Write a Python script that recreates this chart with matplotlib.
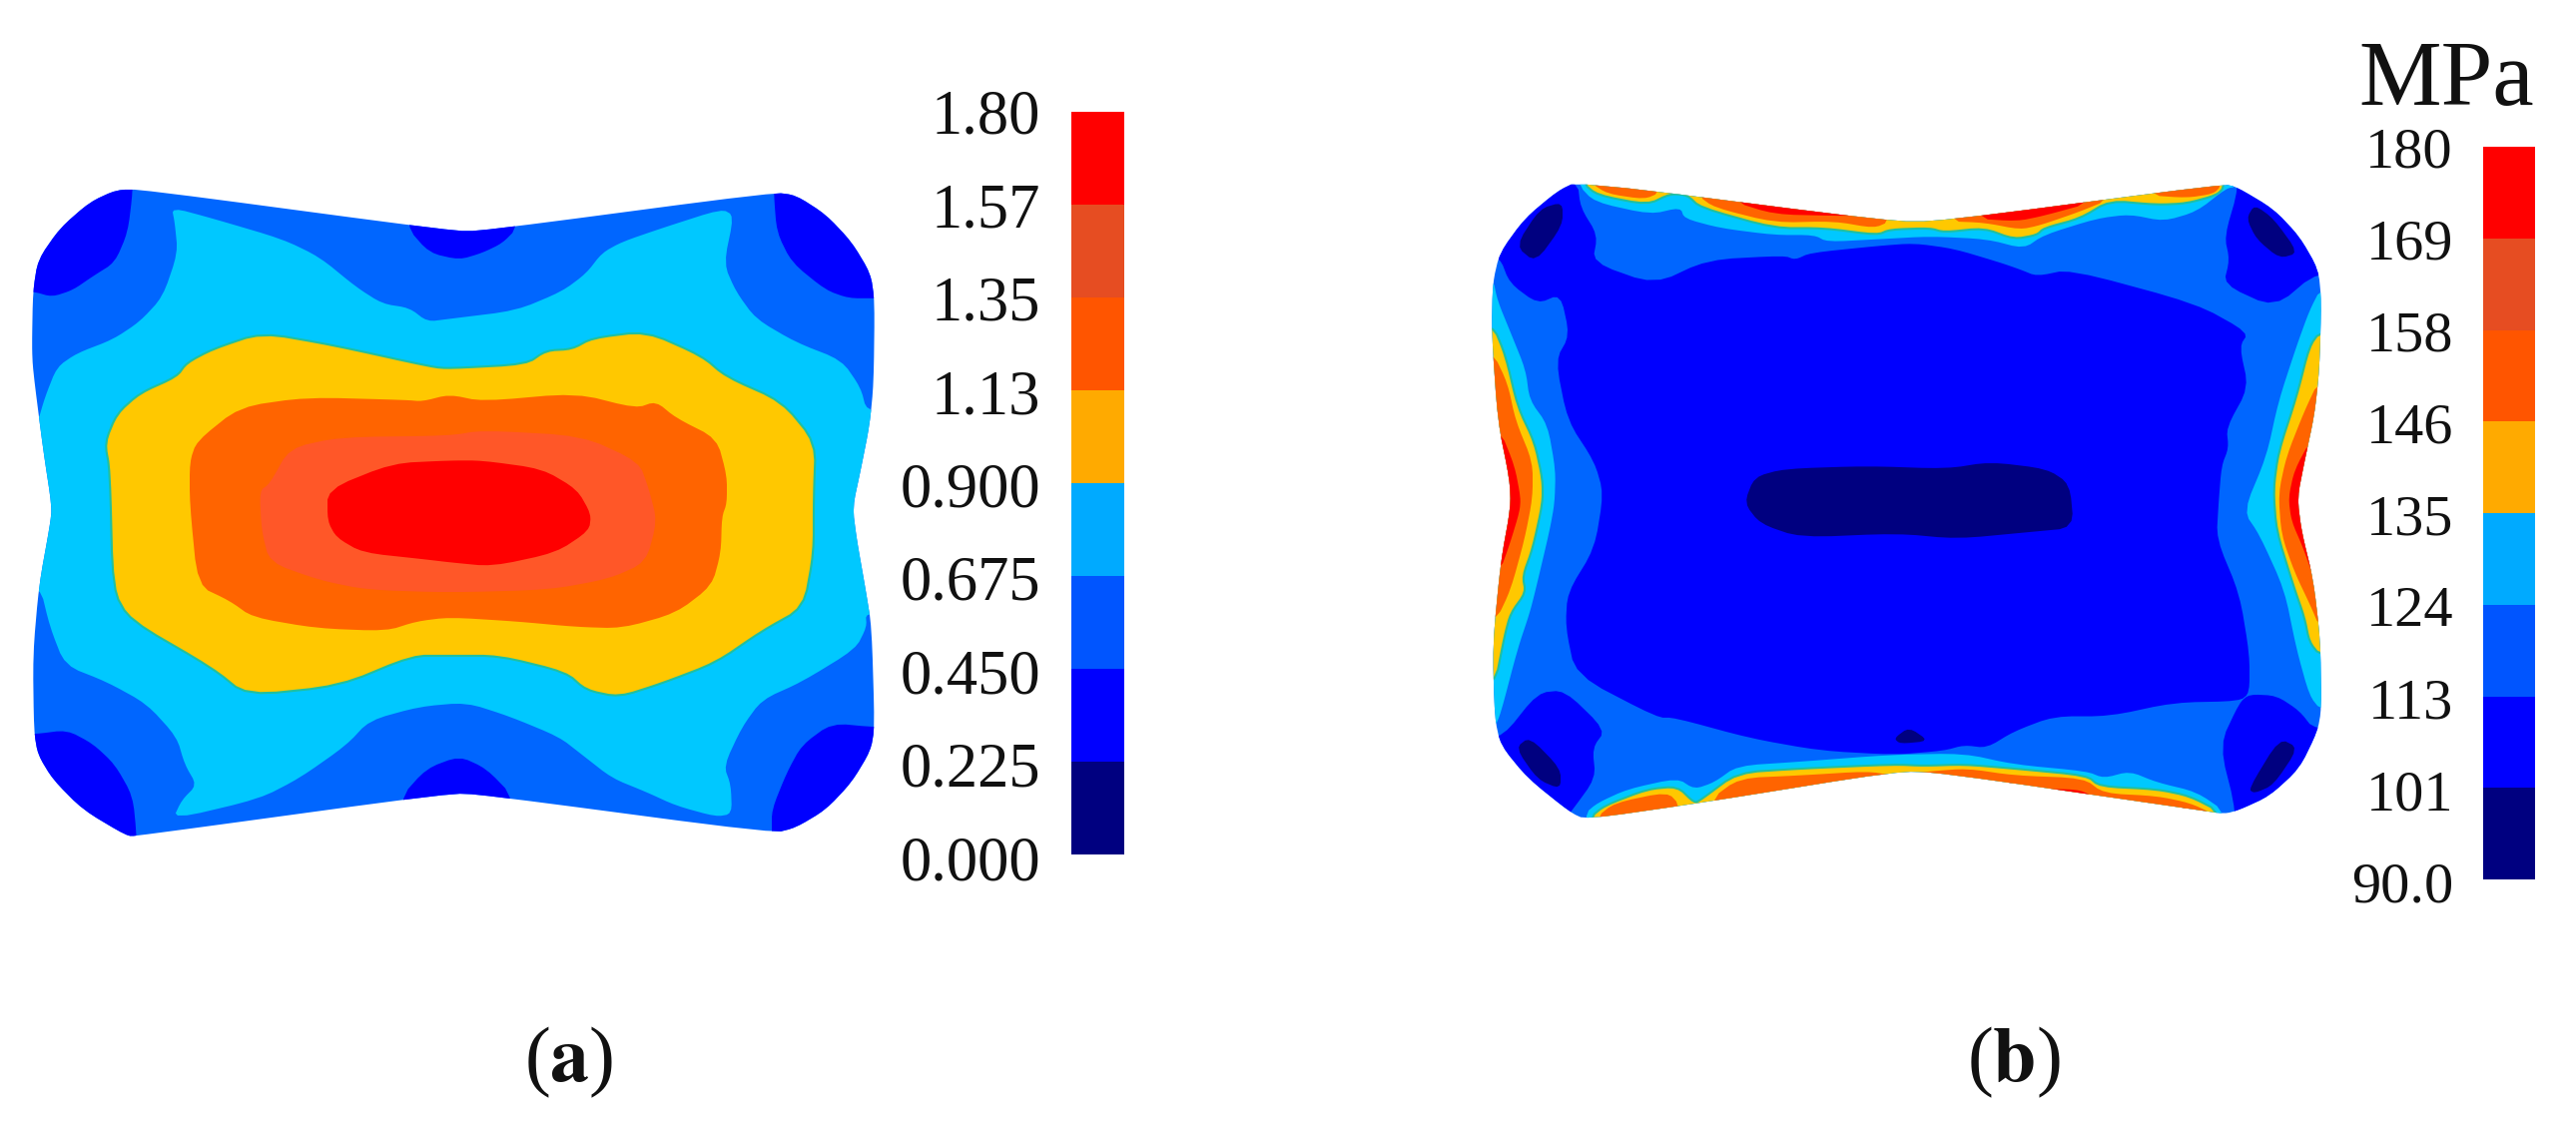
import numpy as np
import matplotlib
matplotlib.use("Agg")
import matplotlib.pyplot as plt

# contour outlines: x in image px, y in trace units (see ylim below)
# ---- panel a
a_outline = [(117,179),(143,179),(453,209),(483,209),(775,181),(797,183),(827,197),(853,217),(872,240),(876,260),
             (875,320),(871,350),(862,383),(854,410),(858,433),(867,470),(873,497),(876,570),(872,587),(853,610),
             (827,630),(797,643),(775,647),(483,619),(450,618),(137,649),(127,649),(83,630),(53,608),(38,590),
             (34,573),(33,517),(39,467),(50,423),(52,410),(43,367),(33,310),(32,293),(33,253),(38,230),(60,207),(90,188)]
a_cyan = [(172,192),(213,200),(283,215),(320,228),(357,250),(383,262),(410,265),(428,275),(450,273),(517,267),
          (563,253),(587,240),(603,225),(623,217),(663,207),(723,193),(735,198),(725,233),(737,253),(757,273),
          (797,290),(843,303),(862,323),(868,340),(900,340),(900,487),(867,487),(868,497),(857,513),(803,537),
          (763,550),(743,570),(725,598),(732,612),(733,633),(717,635),(677,627),(647,617),(613,607),(583,590),
          (560,577),(510,562),(467,552),(420,555),(370,565),(347,583),(300,607),(260,622),(173,637),(182,623),
          (197,612),(185,597),(177,577),(147,553),(107,537),(65,525),(50,497),(40,467),(0,467),(0,350),
          (37,350),(45,330),(57,308),(77,298),(113,288),(140,275),(163,257),(178,225),(175,203)]
a_yellow = [(262,283),(333,292),(433,308),(450,309),(527,306),(547,296),(573,295),(593,287),(647,282),(703,300),
            (727,315),(783,333),(817,363),(815,403),(815,443),(805,483),(763,500),(717,523),(663,538),(620,548),
            (587,543),(567,530),(500,518),(450,518),(413,518),(340,540),(247,547),(213,527),(130,492),(113,470),
            (110,383),(105,363),(117,342),(140,327),(177,315),(187,305),(213,295)]
a_orange = [(307,330),(407,332),(423,333),(450,328),(483,333),(577,327),(637,338),(657,333),(677,345),(718,360),
            (728,387),(728,407),(723,417),(722,443),(713,467),(677,487),(623,498),(577,497),(517,493),(450,490),
            (417,493),(387,500),(317,498),(253,490),(230,478),(198,467),(190,407),(190,377),(197,362),(240,337)]
a_redorange = [(290,367),(340,359),(450,358),(483,354),(583,358),(640,377),(650,397),(658,420),(647,450),(610,462),
               (550,470),(450,472),(367,470),(320,463),(270,450),(262,427),(260,398),(270,393)]
a_red = [(328,397),(393,378),(450,376),(483,376),(543,382),(578,397),(592,415),(590,427),(557,443),(493,453),
         (450,450),(427,448),(363,443),(337,432),(328,420)]
a_blue_tl = [(133,180),(128,210),(115,232),(93,242),(73,252),(52,257),(33,253),(0,253),(0,150),(133,150)]
a_blue_tc = [(407,206),(430,225),(460,230),(483,225),(503,218),(518,207),(518,150),(407,150)]
a_blue_tr = [(775,182),(778,210),(793,232),(827,252),(850,258),(877,258),(950,258),(950,150),(775,150)]
a_blue_bl = [(35,575),(67,572),(93,582),(115,597),(133,620),(137,650),(137,700),(0,700),(0,575)]
a_blue_bc = [(400,622),(427,600),(460,591),(487,600),(515,621),(515,700),(400,700)]
a_blue_br = [(773,647),(773,630),(788,603),(803,583),(833,567),(877,570),(950,570),(950,700),(773,700)]

# ---- panel b
b_outline = [(1580,173),(1893,202),(1943,202),(2227,175),(2240,177),(2277,193),(2303,213),(2322,237),(2325,260),
             (2323,310),(2318,343),(2308,377),(2301,403),(2305,427),(2317,463),(2324,507),(2325,557),(2321,573),
             (2303,600),(2273,620),(2243,630),(2228,633),(2200,630),(1943,603),(1900,602),(1703,625),(1588,637),
             (1573,632),(1530,607),(1503,583),(1497,563),(1495,510),(1503,450),(1513,410),(1512,390),(1500,347),
             (1494,283),(1495,247),(1502,225),(1527,200),(1560,180)]
b_blue = [(1502,228),(1512,247),(1540,262),(1563,255),(1572,285),(1558,303),(1570,347),(1597,377),(1606,400),
          (1597,440),(1570,472),(1568,497),(1578,532),(1660,563),(1677,563),(1753,578),(1823,587),(1897,590),
          (1947,587),(1967,583),(1990,585),(2017,573),(2057,562),(2113,562),(2177,552),(2243,551),(2253,545),
          (2253,517),(2243,473),(2220,433),(2222,407),(2225,380),(2232,367),(2230,352),(2252,323),(2243,293),
          (2252,283),(2200,262),(2073,237),(2040,242),(2023,237),(2003,232),(1957,222),(1917,218),(1880,220),
          (1813,225),(1798,230),(1787,227),(1710,230),(1657,248),(1595,232),(1600,212),(1583,192),(1580,173),
          (1500,150),(1480,228)]
b_blue_bl = [(1505,577),(1540,545),(1567,543),(1608,572),(1595,585),(1598,607),(1573,632),(1500,700),(1480,577)]
b_blue_br = [(2240,632),(2223,583),(2243,552),(2253,546),(2280,547),(2303,558),(2318,572),(2400,572),(2400,700),(2240,700)]
b_blue_tr = [(2242,178),(2228,213),(2233,230),(2227,248),(2278,265),(2322,238),(2400,238),(2400,130),(2242,130)]
b_navy_c = [(1747,407),(1757,388),(1787,382),(1870,380),(1950,382),(1993,377),(2050,382),(2073,393),(2077,425),
            (2033,428),(1960,433),(1900,429),(1803,432),(1763,422)]
b_navy_tl = [(1518,220),(1542,193),(1565,188),(1565,205),(1538,232)]
b_navy_bl = [(1518,585),(1532,577),(1563,600),(1563,615),(1540,608)]
b_navy_tr = [(2250,200),(2258,190),(2277,200),(2302,225),(2283,229),(2260,215)]
b_navy_br = [(2252,615),(2283,578),(2302,585),(2277,612),(2258,618)]
b_navy_b = [(1897,578),(1912,570),(1932,580),(1903,582)]

b_top_cyan = [(1580,175),(1597,188),(1653,197),(1683,192),(1687,200),(1723,207),(1777,212),(1817,212),(1830,217),
              (1883,215),(1933,213),(1990,215),(2027,222),(2047,212),(2100,200),(2133,197),(2167,202),(2200,195),
              (2230,178),(2240,177),(2240,130),(1580,130)]
b_top_yellow = [(1585,174),(1600,183),(1650,190),(1673,182),(1690,183),(1703,192),(1777,207),(1827,207),(1880,212),
                (1893,208),(1933,207),(1947,210),(1987,207),(2017,215),(2040,212),(2047,207),(2083,200),(2113,187),
                (2160,190),(2190,189),(2220,183),(2228,177),(2228,130),(1585,130)]
b_top_orange1 = [(1593,174),(1610,182),(1647,186),(1663,181),(1663,130),(1593,130)]
b_top_orange2 = [(1700,183),(1717,192),(1777,203),(1837,202),(1877,207),(1893,202),(1893,130),(1700,130)]
b_top_orange3 = [(1950,202),(1987,203),(2023,208),(2043,205),(2083,195),(2113,186),(2113,130),(1950,130)]
b_top_orange4 = [(2150,183),(2190,185),(2217,182),(2225,176),(2225,130),(2150,130)]
b_top_red1 = [(1733,187),(1777,197),(1837,198),(1863,198),(1863,130),(1733,130)]
b_top_red2 = [(1977,200),(2020,202),(2047,198),(2097,188),(2097,130),(1977,130)]

b_bot_cyan = [(1587,633),(1600,625),(1630,615),(1680,607),(1697,615),(1717,610),(1740,598),(1803,595),(1893,590),
              (1967,589),(2017,597),(2090,602),(2107,607),(2133,602),(2160,610),(2200,617),(2230,632),(2230,700),(1587,700)]
b_bot_yellow = [(1592,636),(1607,627),(1650,615),(1680,613),(1697,625),(1703,623),(1740,603),(1803,600),(1897,597),
                (1927,598),(1967,597),(2017,600),(2090,605),(2103,613),(2160,615),(2193,620),(2225,632),(2225,700),(1592,700)]
b_bot_orange1 = [(1598,636),(1617,625),(1670,617),(1683,627),(1683,700),(1598,700)]
b_bot_orange2 = [(1712,623),(1742,607),(1803,605),(1870,602),(1897,605),(1933,602),(1970,600),(2017,605),(2087,607),
                 (2107,618),(2160,620),(2193,625),(2217,633),(2217,700),(1712,700)]
b_bot_red1 = [(2003,608),(2033,615),(2080,615),(2097,620),(2097,700),(2003,700)]
b_bot_red2 = [(2177,627),(2207,632),(2207,700),(2177,700)]

b_left_cyan = [(1495,243),(1500,260),(1513,283),(1528,310),(1532,332),(1550,350),(1558,383),(1557,407),(1552,427),
               (1538,470),(1532,487),(1520,513),(1503,560),(1497,570),(1450,570),(1450,243)]
b_left_yellow = [(1495,277),(1508,300),(1520,337),(1537,363),(1545,390),(1545,407),(1535,440),(1525,460),(1528,472),
                 (1513,487),(1507,503),(1497,540),(1450,540),(1450,277)]
b_left_orange = [(1495,297),(1510,320),(1518,347),(1535,377),(1535,403),(1527,433),(1513,470),(1498,493),(1450,493),(1450,297)]
b_left_red = [(1502,353),(1517,380),(1523,403),(1522,413),(1512,437),(1502,457),(1450,457),(1450,353)]

b_right_cyan = [(2325,250),(2313,267),(2300,293),(2282,333),(2270,373),(2247,413),(2263,430),(2288,470),(2300,513),
                (2313,547),(2325,558),(2400,558),(2400,250)]
b_right_yellow = [(2324,282),(2313,293),(2300,330),(2282,370),(2277,397),(2280,427),(2297,467),(2308,490),(2313,508),
                  (2324,518),(2400,518),(2400,282)]
b_right_orange = [(2323,317),(2308,340),(2290,373),(2282,400),(2285,430),(2298,457),(2315,483),(2323,497),(2400,497),(2400,317)]
b_right_red = [(2315,360),(2298,383),(2292,403),(2295,420),(2307,440),(2318,463),(2400,463),(2400,360)]

# legends
a_labels = ["1.80", "1.57", "1.35", "1.13", "0.900", "0.675", "0.450", "0.225", "0.000"]
b_labels = ["180", "169", "158", "146", "135", "124", "113", "101", "90.0"]
bar_colors = ["#000080", "#0000ff", "#0055ff", "#00aaff", "#ffaa00", "#ff5500", "#e64d22", "#ff0000"]

NAVY, BLUE, MID, CYAN = "#000080", "#0000ff", "#0066ff", "#00c8ff"
YELLOW, ORANGE, REDOR, RED = "#ffc800", "#ff6400", "#ff5728", "#ff0000"
EDGE = "#20c0a0"

W, H = 2580, 1126
plt.rcParams["font.family"] = ["Liberation Serif", "DejaVu Serif"]
fig = plt.figure(figsize=(W / 100, H / 100), dpi=100, facecolor="white")
ax = fig.add_axes([0, 0, 1, 1])
ax.set_xlim(0, W)
ax.set_ylim(858.5, 41.1)
ax.axis("off")


def smooth(points, rounds=2, cut=0.2):
    # corner cutting, the contours in the picture have no hard corners
    pts = np.array(points, dtype=float)
    for _ in range(rounds):
        nxt = np.roll(pts, -1, axis=0)
        a = pts + cut * (nxt - pts)
        b = pts + (1 - cut) * (nxt - pts)
        pts = np.column_stack([a, b]).reshape(-1, 2)
    return pts[:, 0], pts[:, 1]


def draw_region(points, color, clip, edge=None):
    xs, ys = smooth(points)
    for patch in ax.fill(xs, ys, color=color, lw=0):
        if edge:
            patch.set_edgecolor(edge)
            patch.set_linewidth(1.5)
        patch.set_clip_path(clip)


def draw_panel(outline, base, layers):
    xs, ys = smooth(outline)
    shape = ax.fill(xs, ys, color=base, lw=0)[0]
    for points, color, *edge in layers:
        draw_region(points, color, shape, edge[0] if edge else None)


draw_panel(a_outline, MID, [
    (a_blue_tl, BLUE), (a_blue_tc, BLUE), (a_blue_tr, BLUE),
    (a_blue_bl, BLUE), (a_blue_bc, BLUE), (a_blue_br, BLUE),
    (a_cyan, CYAN), (a_yellow, YELLOW, EDGE), (a_orange, ORANGE),
    (a_redorange, REDOR), (a_red, RED),
])

draw_panel(b_outline, MID, [
    (b_blue, BLUE), (b_blue_bl, BLUE), (b_blue_br, BLUE), (b_blue_tr, BLUE),
    (b_navy_c, NAVY), (b_navy_tl, NAVY), (b_navy_bl, NAVY), (b_navy_tr, NAVY),
    (b_navy_br, NAVY), (b_navy_b, NAVY),
    (b_top_cyan, CYAN), (b_bot_cyan, CYAN), (b_left_cyan, CYAN), (b_right_cyan, CYAN),
    (b_top_yellow, YELLOW, EDGE), (b_bot_yellow, YELLOW, EDGE),
    (b_left_yellow, YELLOW, EDGE), (b_right_yellow, YELLOW, EDGE),
    (b_top_orange1, ORANGE), (b_top_orange2, ORANGE), (b_top_orange3, ORANGE), (b_top_orange4, ORANGE),
    (b_bot_orange1, ORANGE), (b_bot_orange2, ORANGE), (b_left_orange, ORANGE), (b_right_orange, ORANGE),
    (b_top_red1, RED), (b_top_red2, RED), (b_bot_red1, RED), (b_bot_red2, RED),
    (b_left_red, RED), (b_right_red, RED),
])


def color_bar(x0, x1, y0, y1, labels, right, ytop, ybot, size):
    bar_ax = fig.add_axes([x0 / W, 1 - y1 / H, (x1 - x0) / W, (y1 - y0) / H])
    bar_ax.bar(0, 1, width=1, bottom=np.arange(len(bar_colors)), color=bar_colors, lw=0)
    bar_ax.set_xlim(-0.5, 0.5)
    bar_ax.set_ylim(0, len(bar_colors))
    bar_ax.axis("off")
    for lab, yp in zip(labels, np.linspace(ytop, ybot, len(labels))):
        fig.text(right / W, 1 - yp / H, lab, ha="right", va="center_baseline", fontsize=size, color="#111111")


color_bar(1073, 1126, 112, 856, a_labels, 1042, 112, 859, 45)
color_bar(2487, 2539, 147, 881, b_labels, 2457, 147, 883, 42)

fig.text(2450 / W, 1 - 105 / H, "MPa", ha="center", va="baseline", fontsize=67, color="#111111")

for xp, letter in [(570, "a"), (2017, "b")]:
    fig.text(xp / W, 1 - 1083 / H,
             r"(" + "$\\mathbf{" + letter + "}$" + ")",
             ha="center", va="baseline", fontsize=56, math_fontfamily="stix", color="#111111")

fig.savefig("out.png", dpi=100, facecolor="white")
